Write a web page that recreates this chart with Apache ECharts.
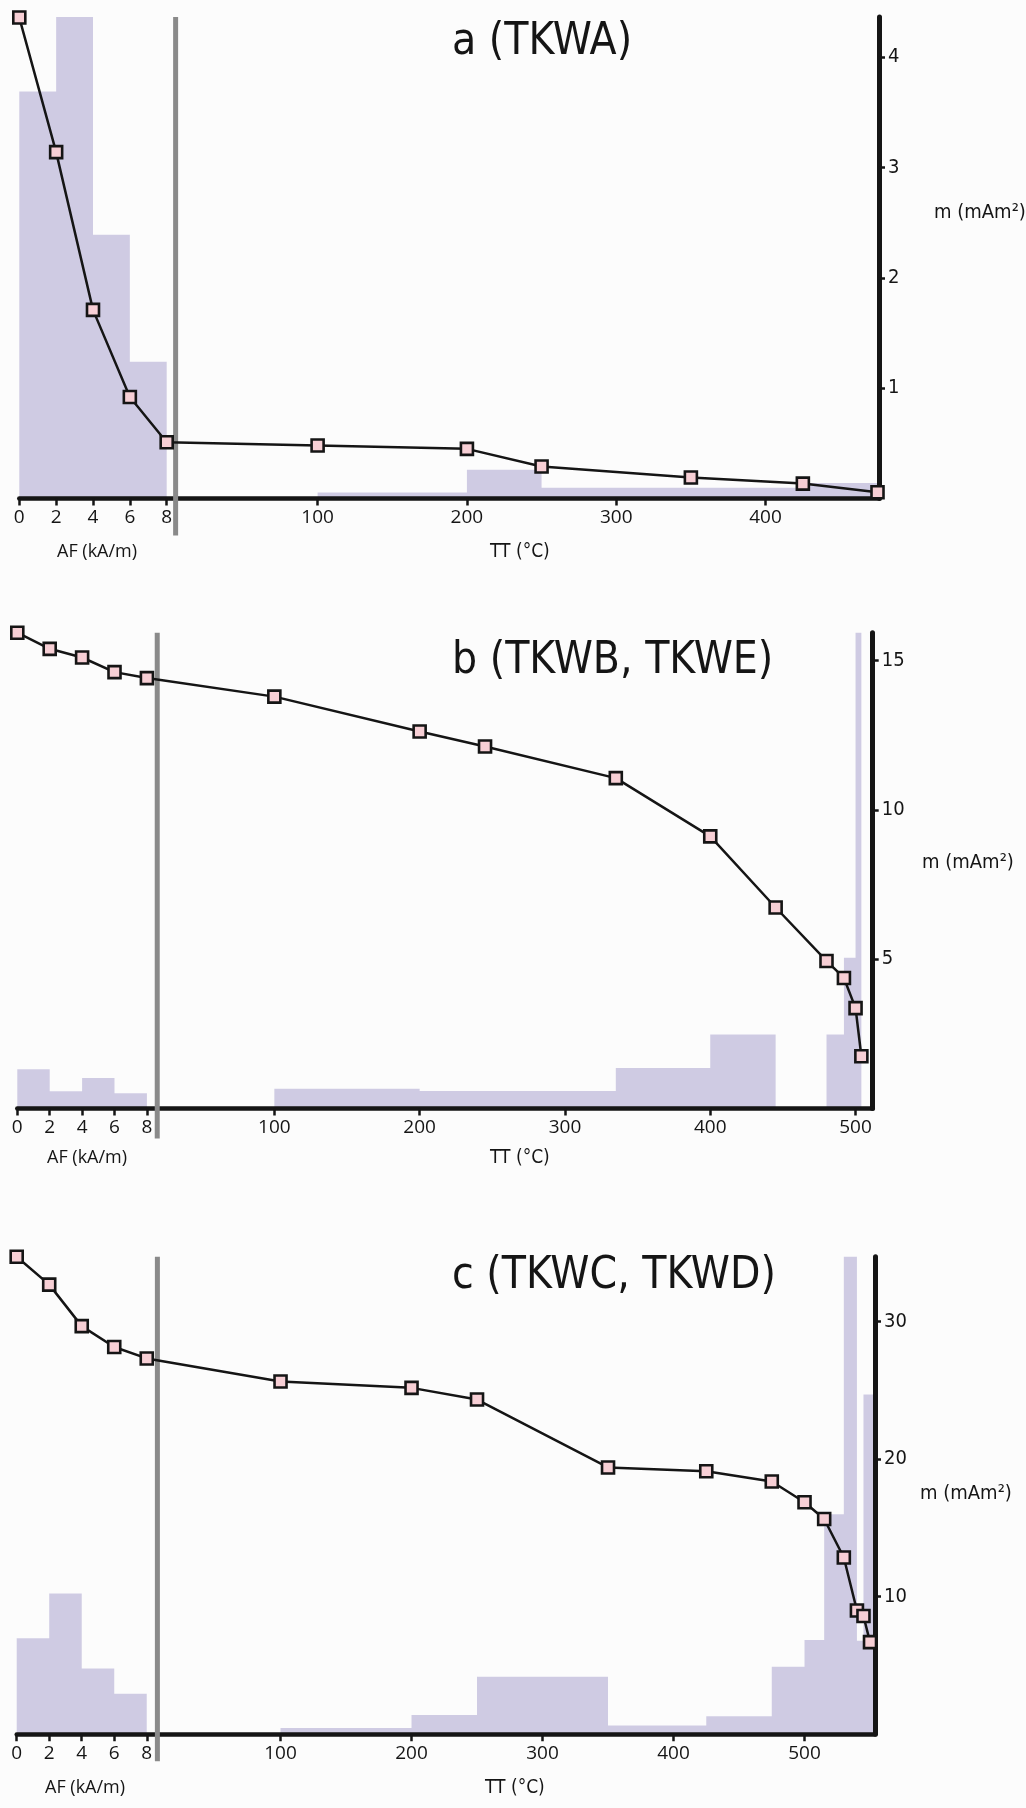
<!DOCTYPE html>
<html>
<head>
<meta charset="utf-8">
<script src="https://cdn.jsdelivr.net/npm/echarts@6.0.0/dist/echarts.min.js"></script>
<style>
  html, body { margin: 0; padding: 0; background: #fcfcfc; }
  #chart { width: 1026px; height: 1808px; }
</style>
</head>
<body>
<div id="chart"></div>
<script>
// ---- panel a (TKWA) ----
const aAfSteps = [0, 2, 4, 6, 8];
const aAfMoment = [4.36, 3.14, 1.71, 0.92, 0.51];
const aTtSteps = [100, 200, 250, 350, 425, 475];
const aTtMoment = [0.48, 0.45, 0.29, 0.19, 0.135, 0.057];
const aAfBins = [0, 2, 4, 6, 8];
const aAfHist = [3.69, 4.4, 2.39, 1.24];
const aTtBins = [100, 200, 250, 425, 476];
const aTtHist = [0.055, 0.26, 0.097, 0.14];
const aYTicks = [1, 2, 3, 4];
const aTtTicks = [100, 200, 300, 400];

// ---- panel b (TKWB, TKWE) ----
const bAfSteps = [0, 2, 4, 6, 8];
const bAfMoment = [15.93, 15.39, 15.1, 14.61, 14.41];
const bTtSteps = [100, 200, 245, 335, 400, 445, 480, 492, 500, 504];
const bTtMoment = [13.79, 12.62, 12.12, 11.06, 9.11, 6.73, 4.94, 4.37, 3.36, 1.75];
const bAfBins = [0, 2, 4, 6, 8];
const bAfHist = [1.31, 0.58, 1.02, 0.51];
const bTtBins = [100, 200, 335, 400, 445, 480, 492, 500, 504];
const bTtHist = [0.66, 0.59, 1.36, 2.48, 0, 2.48, 5.05, 16];
const bYTicks = [5, 10, 15];
const bTtTicks = [100, 200, 300, 400, 500];

// ---- panel c (TKWC, TKWD) ----
const cAfSteps = [0, 2, 4, 6, 8];
const cAfMoment = [34.73, 32.7, 29.68, 28.16, 27.33];
const cTtSteps = [100, 200, 250, 350, 425, 475, 500, 515, 530, 540, 545, 550];
const cTtMoment = [25.65, 25.19, 24.34, 19.4, 19.13, 18.38, 16.87, 15.65, 12.85, 9.0, 8.6, 6.7];
const cAfBins = [0, 2, 4, 6, 8];
const cAfHist = [6.98, 10.24, 4.77, 2.95];
const cTtBins = [100, 200, 250, 350, 425, 475, 500, 515, 530, 540, 545, 553.8];
const cTtHist = [0.45, 1.4, 4.18, 0.63, 1.3, 4.9, 6.85, 16.0, 35, 6.8, 24.7];
const cYTicks = [10, 20, 30];
const cTtTicks = [100, 200, 300, 400, 500];

const afTicks = [0, 2, 4, 6, 8];

const W = 1026, H = 1808;
const condensed = '"Liberation Sans Narrow", "DejaVu Sans Condensed", Roboto, sans-serif';
const regular = '"Open Sans", "Noto Sans", sans-serif';
const ink = '#151515';
const lilac = '#cfcbe3';

const panels = [
  {
    title: 'a (TKWA)',
    afSteps: aAfSteps, afMoment: aAfMoment, ttSteps: aTtSteps, ttMoment: aTtMoment,
    afBins: aAfBins, afHist: aAfHist, ttBins: aTtBins, ttHist: aTtHist,
    yTicks: aYTicks, ttTicks: aTtTicks,
    top: 17, zeroY: 498.5, left: 19.3, rightX: 879,
    afStart: -99.8, afStep: 12.34, xMax: 476, yMax: 4.365, gapPos: 4.9, gapDrop: 37,
    titleTop: 21, mLeft: 934, mTop: 203, labelTop: 543, afLeft: 57, ttLeft: 490
  },
  {
    title: 'b (TKWB, TKWE)',
    afSteps: bAfSteps, afMoment: bAfMoment, ttSteps: bTtSteps, ttMoment: bTtMoment,
    afBins: bAfBins, afHist: bAfHist, ttBins: bTtBins, ttHist: bTtHist,
    yTicks: bYTicks, ttTicks: bTtTicks,
    top: 632.7, zeroY: 1108.5, left: 17.3, rightX: 872.7,
    afStart: -76.9, afStep: 11.15, xMax: 511.8, yMax: 15.93, gapPos: 19.4, gapDrop: 30,
    titleTop: 640, mLeft: 922, mTop: 853, labelTop: 1149, afLeft: 47, ttLeft: 490
  },
  {
    title: 'c (TKWC, TKWD)',
    afSteps: cAfSteps, afMoment: cAfMoment, ttSteps: cTtSteps, ttMoment: cTtMoment,
    afBins: cAfBins, afHist: cAfHist, ttBins: cTtBins, ttHist: cTtHist,
    yTicks: cYTicks, ttTicks: cTtTicks,
    top: 1256.7, zeroY: 1734.2, left: 16.7, rightX: 875,
    afStart: -101.4, afStep: 12.41, xMax: 553.8, yMax: 34.73, gapPos: 6, gapDrop: 27,
    titleTop: 1255, mLeft: 920, mTop: 1484, labelTop: 1779, afLeft: 45, ttLeft: 485
  }
];

// histogram as a stepped area: value holds from a bin edge to the next one
const histPoints = (bins, heights, toPos) => {
  const pts = heights.map((h, i) => [toPos(bins[i]), h]);
  pts.push([toPos(bins[bins.length - 1]), 0]);
  return pts;
};

const grid = [], xAxis = [], yAxis = [], series = [], title = [];

panels.forEach((p, k) => {
  // AF (kA/m) sits left of the TT (°C) scale on the same axis
  const afPos = (v) => p.afStart + v * p.afStep;
  const ttPos = (v) => v;
  const g = k * 2;

  grid.push({
    left: p.left, right: W - p.rightX, top: p.top, bottom: H - p.zeroY,
    containLabel: false, outerBoundsMode: 'none'
  });
  grid.push({
    left: p.left, right: W - p.rightX, top: p.top, bottom: H - p.zeroY - p.gapDrop,
    containLabel: false, outerBoundsMode: 'none'
  });

  const tickVals = afTicks.map(afPos).concat(p.ttTicks);
  xAxis.push({
    type: 'value', gridIndex: g, min: p.afStart, max: p.xMax, z: 3,
    axisLine: { show: true, onZero: false, lineStyle: { color: ink, width: 4.5 } },
    axisTick: { show: true, length: 7, lineStyle: { color: ink, width: 2.5 }, customValues: tickVals },
    axisLabel: {
      customValues: tickVals, margin: 10, fontSize: 19, fontFamily: regular, color: ink,
      formatter: (v) => (v < 50 ? String(Math.round((v - p.afStart) / p.afStep)) : String(Math.round(v)))
    },
    splitLine: { show: false }
  });
  xAxis.push({ type: 'value', gridIndex: g + 1, min: p.afStart, max: p.xMax, show: false });

  yAxis.push({
    type: 'value', gridIndex: g, position: 'right', min: 0, max: p.yMax, z: 3,
    axisLine: { show: true, onZero: false, lineStyle: { color: ink, width: 5 } },
    axisTick: { show: true, length: 6, lineStyle: { color: ink, width: 2.5 }, customValues: p.yTicks },
    axisLabel: { customValues: p.yTicks, margin: 9, fontSize: 20, fontFamily: condensed, color: ink },
    splitLine: { show: false }
  });
  yAxis.push({ type: 'value', gridIndex: g + 1, min: 0, max: 1, show: false });

  const hist = histPoints(p.afBins, p.afHist, afPos).concat(histPoints(p.ttBins, p.ttHist, ttPos));
  series.push({
    type: 'line', xAxisIndex: g, yAxisIndex: g, step: 'end', data: hist,
    symbol: 'none', lineStyle: { width: 0, color: lilac },
    areaStyle: { color: lilac, opacity: 1 }, z: 2, silent: true
  });

  series.push({
    type: 'line', xAxisIndex: g + 1, yAxisIndex: g + 1,
    data: [[p.gapPos, 0], [p.gapPos, 1]], symbol: 'none',
    lineStyle: { color: '#8a8a8a', width: 5 }, z: 4, silent: true
  });

  const moment = p.afSteps.map((v, i) => [afPos(v), p.afMoment[i]])
    .concat(p.ttSteps.map((t, i) => [ttPos(t), p.ttMoment[i]]));
  series.push({
    type: 'line', xAxisIndex: g, yAxisIndex: g, data: moment, clip: false,
    symbol: 'rect', symbolSize: 12, showAllSymbol: true,
    lineStyle: { color: ink, width: 2.5 },
    itemStyle: { color: '#f7cfd5', borderColor: ink, borderWidth: 2.6 },
    z: 5
  });

  title.push({
    text: p.title, left: 452, top: p.titleTop, padding: 0,
    textStyle: { fontSize: 44, fontWeight: 'normal', fontFamily: condensed, color: ink }
  });
  title.push({
    text: 'm (mAm²)', left: p.mLeft, top: p.mTop, padding: 0,
    textStyle: { fontSize: 20, fontWeight: 'normal', fontFamily: condensed, color: ink }
  });
  title.push({
    text: 'AF (kA/m)', left: p.afLeft, top: p.labelTop, padding: 0,
    textStyle: { fontSize: 18, fontWeight: 'normal', fontFamily: regular, color: ink }
  });
  title.push({
    text: 'TT (°C)', left: p.ttLeft, top: p.labelTop, padding: 0,
    textStyle: { fontSize: 19, fontWeight: 'normal', fontFamily: condensed, color: ink }
  });
});

const chart = echarts.init(document.getElementById('chart'));
chart.setOption({
  backgroundColor: '#fcfcfc',
  animation: false,
  title, grid, xAxis, yAxis, series
});
</script>
</body>
</html>
